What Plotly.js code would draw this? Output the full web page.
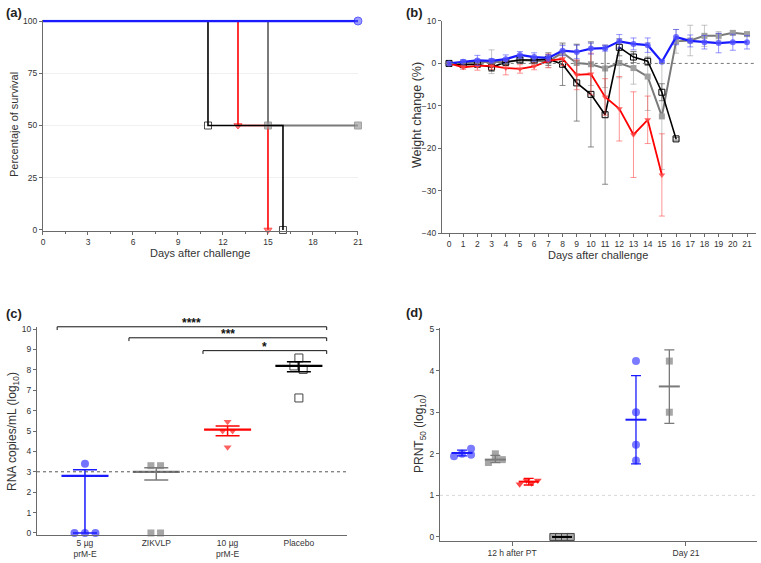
<!DOCTYPE html>
<html><head><meta charset="utf-8">
<script src="https://cdn.plot.ly/plotly-3.0.1.min.js"></script>
<style>body{margin:0;background:#fff}#chart{width:761px;height:563px}</style>
</head><body><div id="chart"></div>
<script>
// ---------- (a) survival (step curves) ----------
const survBlueX = [0, 21];        const survBlueY = [100, 100];
const survGrayX = [0, 15, 21];    const survGrayY = [100, 50, 50];
const survRedX = [0, 13, 15];     const survRedY = [100, 50, 0];
const survBlackX = [0, 11, 16];   const survBlackY = [100, 50, 0];

// ---------- (b) weight change ----------
const days = [0,1,2,3,4,5,6,7,8,9,10,11,12,13,14,15,16,17,18,19,20,21];
const wBlue =     [0, 0.4, 0.7, 0.6, 1.0, 2.0, 1.5, 1.3, 3.0, 2.7, 3.5, 3.6, 5.2, 4.6, 4.3, 0.4, 6.2, 5.3, 5.0, 4.8, 5.0, 5.0];
const wBlueErr =  [0, 0.5, 1.2, 0.5, 1.0, 0.8, 1.0, 0.8, 1.2, 1.6, 1.3, 0.7, 1.6, 1.4, 1.7, 0.3, 1.8, 1.4, 1.6, 2.3, 1.9, 1.6];
const wGray =     [0, 0.1, 0.2, 0.4, 0.3, 0.8, 0.6, 0.5, 2.5, 0.1, -0.2, -1.2, 0.1, -1.1, -3.1, -12.5, 5.2, 5.4, 6.5, 6.5, 7.2, 6.9];
const wGrayErr =  [0, 0.5, 0.8, 2.8, 0.8, 0.7, 0.8, 1.5, 2.0, 4.5, 5.0, 4.5, 3.5, 3.8, 8.0, 12.5, 2.8, 3.6, 2.5, 1.0, 0.5, 0.5];
const wRed =      [0, -0.9, -0.6, -0.6, -1.1, -1.3, -0.7, 0.6, 1.1, -2.7, -2.5, -7.9, -10.7, -16.8, -13.3, -26.3];
const wRedErr =   [0, 0.5, 1.0, 0.8, 1.6, 1.0, 0.8, 1.6, 1.6, 3.5, 4.9, 4.3, 7.6, 10.1, 5.6, 9.7];
const wBlack =    [0, -0.3, -0.2, -0.9, 0.3, 0.8, 0.8, 1.0, -0.2, -4.6, -7.3, -12.1, 3.8, 1.5, 0.5, -6.8, -17.8];
const wBlackErr = [0, 0.5, 0.5, 1.0, 0.8, 0.8, 0.8, 1.5, 5.0, 9.0, 12.4, 16.4, 2.0, 1.3, 1.0, 2.0, 0.3];

// ---------- (c) viral RNA ----------
const cCats = ['5 µg<br>prM-E', 'ZIKVLP', '10 µg<br>prM-E', 'Placebo'];
const cBlue = [3.4, 0, 0, 0];          const cBlueJit = [0, -0.147, 0, 0.147];
const cGray = [3.3, 3.3, 0, 0];        const cGrayJit = [-0.075, 0.06, -0.075, 0.06];
const cRed = [5.45, 5.0, 5.0, 4.2];    const cRedJit = [0, -0.07, 0.07, 0];
const cBlack = [8.58, 8.19, 8.02, 6.62]; const cBlackJit = [0, -0.07, 0.06, 0];
const cMean = [2.8, 3.0, 5.07, 8.19];
const cErrPlus = [0.3, 0.2, 0.18, 0.21];
const cErrMinus = [2.8, 0.4, 0.3, 0.29];
const sigFrom = [0, 1, 2];
const sigTo = [3, 3, 3];
const sigLevel = [10.11, 9.57, 8.94];
const sigText = ['****', '***', '*'];

// ---------- (d) PRNT50 ----------
const dGroups = ['12 h after PT', 'Day 21'];
const dBlue12 = [1.94, 2.00, 2.12, 1.98];  const dBlue12Jit = [-0.046, 0, 0.052, 0.052];
const dGray12 = [1.79, 2.00, 1.86, 1.88];  const dGray12Jit = [-0.04, 0, 0.04, 0];
const dRed12 = [1.27, 1.36, 1.29, 1.36];   const dRed12Jit = [-0.052, -0.012, 0.017, 0.052];
const dBlack12 = [0, 0, 0, 0];             const dBlack12Jit = [-0.05, -0.017, 0.017, 0.05];
const dBlue21 = [4.23, 3.0, 2.22, 1.84];
const dGray21 = [4.23, 3.0];
const dBlueMean = [2.02, 2.82];  const dBlueErr = [0.07, 1.06];
const dGrayMean = [1.86, 3.62];  const dGrayErrP = [0.10, 0.88]; const dGrayErrM = [0.07, 0.89];
const dRedMean = [1.33];         const dRedErr = [0.08];
const dBlackMean = [0];          const dBlackErr = [0];

// ---------- styling ----------
const F = 'Liberation Sans, Arial, sans-serif';
const TXT = '#333';
const AX = '#6a6a6a';
const BLUE = '#1a1aff', BLUEM = 'rgba(80,80,255,0.8)';
const RED = '#ff0000', REDM = 'rgba(255,70,70,0.85)';
const GRAY = '#7a7a7a', GRAYM = '#a0a0a0';
const BLACK = '#000000';
const dOff = [-0.2875, -0.0958, 0.0958, 0.2875];

const traces = [];
// (a)
traces.push({x: survRedX, y: survRedY, xaxis:'x', yaxis:'y', mode:'lines+markers', cliponaxis:false,
  line:{shape:'hv', color:RED, width:1.6}, marker:{symbol:'triangle-down', size:[0,7,7], color:REDM}});
traces.push({x: survGrayX, y: survGrayY, xaxis:'x', yaxis:'y', mode:'lines+markers', cliponaxis:false,
  line:{shape:'hv', color:GRAY, width:2}, marker:{symbol:'square', size:[0,7,7], color:GRAYM}});
traces.push({x: survBlackX, y: survBlackY, xaxis:'x', yaxis:'y', mode:'lines+markers', cliponaxis:false,
  line:{shape:'hv', color:BLACK, width:1.6}, marker:{symbol:'square-open', size:[0,7,7], color:BLACK, line:{width:1}}});
traces.push({x: survBlueX, y: survBlueY, xaxis:'x', yaxis:'y', mode:'lines+markers', cliponaxis:false,
  line:{shape:'hv', color:BLUE, width:2.5}, marker:{symbol:'circle', size:[0,8], color:BLUEM}});

// (b)
function wTrace(y, err, lc, mc, sym, ec, lw) {
  return {x: days.slice(0, y.length), y: y, xaxis:'x2', yaxis:'y2', mode:'lines+markers', cliponaxis:false,
    line:{color:lc, width:lw}, marker:{symbol:sym, size:6, color:mc, line:{width: sym.indexOf('open')>=0 ? 1 : 0}},
    error_y:{type:'data', array: err, visible:true, color: ec, thickness:1, width:3}};
}
traces.push(wTrace(wGray, wGrayErr, GRAY, GRAYM, 'square', 'rgba(150,150,150,0.55)', 2));
traces.push(wTrace(wBlack, wBlackErr, BLACK, BLACK, 'square-open', 'rgba(90,90,90,0.7)', 1.6));
traces.push(wTrace(wRed, wRedErr, RED, REDM, 'triangle-down', 'rgba(255,60,60,0.55)', 1.8));
traces.push(wTrace(wBlue, wBlueErr, BLUE, BLUEM, 'circle', 'rgba(60,60,255,0.55)', 2.2));

// (c)
function cPts(vals, jit, ci, sym, col, size, lw) {
  return {x: vals.map((v, i) => ci + jit[i]), y: vals, xaxis:'x3', yaxis:'y3', mode:'markers', cliponaxis:false,
    marker:{symbol:sym, size:size, color:col, line:{width:lw, color:col}}};
}
traces.push(cPts(cBlue, cBlueJit, 0, 'circle', 'rgba(90,90,255,0.85)', 8, 0));
traces.push(cPts(cGray, cGrayJit, 1, 'square', '#a6a6a6', 7, 0));
traces.push(cPts(cRed, cRedJit, 2, 'triangle-down', 'rgba(255,80,80,0.9)', 7, 0));
traces.push(cPts(cBlack, cBlackJit, 3, 'square-open', '#444', 8, 1));
const cColors = [BLUE, GRAY, RED, BLACK];
cMean.forEach((m, i) => {
  traces.push({x:[i], y:[m], xaxis:'x3', yaxis:'y3', mode:'markers', cliponaxis:false,
    marker:{symbol:'line-ew-open', size:33.6, color:cColors[i], line:{width:2.2}},
    error_y:{type:'data', symmetric:false, array:[cErrPlus[i]], arrayminus:[cErrMinus[i]], color:cColors[i], thickness:1.5, width:12}});
});

// (d)
function dPts(v12, j12, gi, v21, col, sym, size, lc, lw) {
  const xs = v12.map((v, i) => 0 + dOff[gi] + j12[i]).concat(v21.map(() => 1 + dOff[gi]));
  return {x: xs, y: v12.concat(v21), xaxis:'x4', yaxis:'y4', mode:'markers', cliponaxis:false,
    marker:{symbol:sym, size:size, color:col, line:{width:lw, color:lc}}};
}
traces.push(dPts(dBlue12, dBlue12Jit, 0, dBlue21, 'rgba(100,100,255,0.85)', 'circle', 8, BLUE, 0));
traces.push(dPts(dGray12, dGray12Jit, 1, dGray21, '#a6a6a6', 'square', 7, GRAY, 0));
traces.push(dPts(dRed12, dRed12Jit, 2, [], 'rgba(255,50,50,0.9)', 'triangle-down', 7, RED, 0));
traces.push(dPts(dBlack12, dBlack12Jit, 3, [], '#aaaaaa', 'square', 7, '#444', 1));
function dMean(means, gi, plus, minus, col, w) {
  return {x: means.map((m, i) => i + dOff[gi]), y: means, xaxis:'x4', yaxis:'y4', mode:'markers', cliponaxis:false,
    marker:{symbol:'line-ew-open', size:w, color:col, line:{width:2}},
    error_y:{type:'data', symmetric:false, array:plus, arrayminus:minus, color:col, thickness:1.3, width:5}};
}
traces.push(dMean(dBlueMean, 0, dBlueErr, dBlueErr, BLUE, 15));
traces.push(dMean(dGrayMean, 1, dGrayErrP, dGrayErrM, GRAY, 15));
traces.push(dMean(dRedMean, 2, dRedErr, dRedErr, RED, 14.3));
traces.push(dMean(dBlackMean, 3, dBlackErr, dBlackErr, BLACK, 14.3));

// ---------- layout ----------
const tf = {family:F, size:8.5, color:TXT};
function ax(o) {
  return Object.assign({showline:true, linecolor:AX, linewidth:1, ticks:'outside', ticklen:3, tickcolor:AX,
    showgrid:false, zeroline:false, tickfont:tf, automargin:false, fixedrange:true}, o);
}
const C_YMIN = -0.1, C_YMAX = 10.1;
const cyd = v => (v - C_YMIN) / (C_YMAX - C_YMIN);
const px = v => v / 761, py = v => 1 - v / 563;

const shapes = [
  {type:'line', xref:'x2', yref:'y2', x0:-0.3, x1:21.6, y0:0, y1:0, line:{color:'#777', width:1, dash:'dot'}},
  {type:'line', xref:'x3 domain', yref:'y3', x0:0, x1:1, y0:3, y1:3, line:{color:'#555', width:1, dash:'dot'}},
  {type:'line', xref:'x4 domain', yref:'y4', x0:0, x1:1, y0:1, y1:1, line:{color:'#d8d8d8', width:1, dash:'dot'}}
];
function lbl(t, x, y) {
  return {text:'<b>' + t + '</b>', xref:'paper', yref:'paper', x:px(x), y:py(y), xanchor:'left', yanchor:'middle',
    showarrow:false, font:{family:F, size:13, color:'#222'}};
}
function ttl(t, x, y, size, angle) {
  return {text:t, xref:'paper', yref:'paper', x:px(x), y:py(y), xanchor:'center', yanchor:'middle',
    textangle:angle, showarrow:false, borderpad:0, font:{family:F, size:size, color:TXT}};
}
const annotations = [
  lbl('(a)', 4, 12), lbl('(b)', 404, 12), lbl('(c)', 4, 313), lbl('(d)', 404, 312),
  ttl('Percentaje of survival', 14, 125, 11, -90),
  ttl('Days after challenge', 200, 253, 11, 0),
  ttl('Weight change (%)', 417, 115, 12.5, -90),
  ttl('Days after challenge', 598, 255, 11, 0),
  ttl('RNA copies/mL (log<sub>10</sub>)', 13, 432, 12, -90),
  ttl('PRNT<sub>50</sub> (log<sub>10</sub>)', 420, 434, 12, -90)
];
const sigLeftPad = [0.39, 0.383, 0.345];
sigFrom.forEach((f, i) => {
  const xl = f - sigLeftPad[i], xr = sigTo[i] + 0.39, yv = cyd(sigLevel[i]), yd = cyd(sigLevel[i] - 0.16);
  shapes.push({type:'line', xref:'x3', yref:'y3 domain', x0:xl, x1:xr, y0:yv, y1:yv, line:{color:'#111', width:1}});
  shapes.push({type:'line', xref:'x3', yref:'y3 domain', x0:xl, x1:xl, y0:yv, y1:yd, line:{color:'#111', width:1}});
  shapes.push({type:'line', xref:'x3', yref:'y3 domain', x0:xr, x1:xr, y0:yv, y1:yd, line:{color:'#111', width:1}});
  annotations.push({text:'<b>' + sigText[i] + '</b>', xref:'x3', yref:'y3 domain', x:(xl + xr) / 2, y:yv,
    xanchor:'center', yanchor:'middle', yshift:4, showarrow:false, font:{family:F, size:12, color:'#111'}});
});

const layout = {
  width:761, height:563, margin:{l:0, r:0, t:0, b:0}, paper_bgcolor:'#fff', plot_bgcolor:'#fff',
  showlegend:false, hovermode:false, font:{family:F, color:TXT},
  xaxis: ax({domain:[0.0565, 0.4704], range:[0, 21], anchor:'y', tick0:0, dtick:3,
    minor:{dtick:1.5, tick0:0, ticks:'outside', ticklen:2, tickcolor:AX}}),
  yaxis: ax({domain:[0.5904, 0.9649], range:[-0.3, 100.6], anchor:'x', tickvals:[0,25,50,75,100],
    showgrid:true, gridcolor:'#f0f0f0'}),
  xaxis2: ax({domain:[0.5807, 0.9928], range:[-0.5, 21.6], anchor:'y2', tick0:0, dtick:1}),
  yaxis2: ax({domain:[0.5861, 0.9627], range:[-40, 10], anchor:'x2', tick0:0, dtick:10}),
  xaxis3: ax({domain:[0.0486, 0.456], range:[-0.673, 3.675], anchor:'y3', tickvals:[0,1,2,3], ticktext:cCats, ticks:''}),
  yaxis3: ax({domain:[0.0497, 0.4192], range:[C_YMIN, C_YMAX], anchor:'x3', tick0:0, dtick:1}),
  xaxis4: ax({domain:[0.5782, 0.9947], range:[-0.414, 1.408], anchor:'y4', tickvals:[0,1], ticktext:dGroups, ticklen:4}),
  yaxis4: ax({domain:[0.0396, 0.417], range:[-0.09, 5.02], anchor:'x4', tick0:0, dtick:1}),
  shapes: shapes, annotations: annotations
};
Plotly.newPlot('chart', traces, layout, {staticPlot:true, displayModeBar:false});
</script></body></html>
